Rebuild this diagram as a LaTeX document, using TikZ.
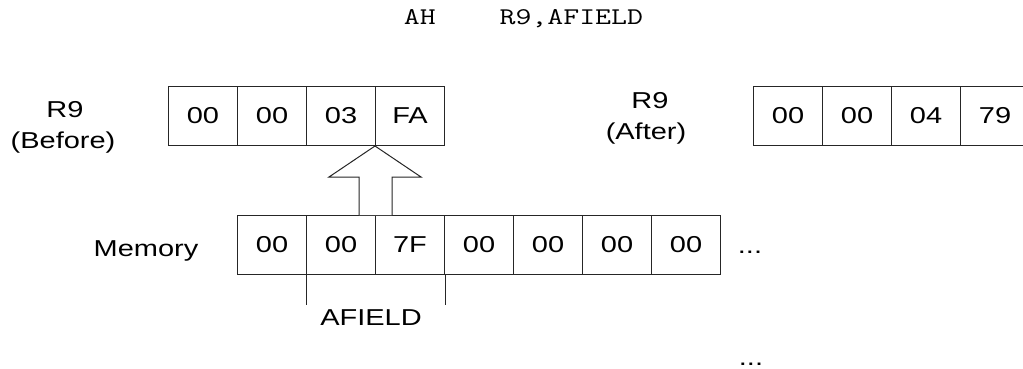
\documentclass[tikz,border=0pt]{standalone}
\usepackage{fontspec}
\setmainfont{Liberation Sans}[FakeStretch=1.26]
\newfontfamily\monof{Latin Modern Mono}[FakeStretch=1.29]
\usetikzlibrary{calc}
\begin{document}
\begin{tikzpicture}[x=0.75pt,y=-0.75pt,
  cell/.style={draw=black!85, line width=0.75pt, minimum width=51.75pt, minimum height=44.25pt,
    inner sep=0pt, anchor=north west, font=\fontsize{17.25pt}{20pt}\selectfont},
  lbl/.style={anchor=base, inner sep=0pt, font=\fontsize{17.25pt}{20pt}\selectfont},
  tick/.style={draw=black!85, line width=0.75pt}]
\useasboundingbox (0,0) rectangle (1023,368);
% title
\node[anchor=base, inner sep=0pt, font=\monof\fontsize{18pt}{20pt}\selectfont] (title) at (523.5,24) {AH\ \ \ \ R9,AFIELD};
% register before
\node[cell] (b1) at (168,86) {00};
\node[cell] (b2) at (237,86) {00};
\node[cell] (b3) at (306,86) {03};
\node[cell] (b4) at (375,86) {FA};
\node[lbl] (rb) at (65,117) {R9};
\node[lbl] (rbb) at (63,148) {(Before)};
% register after
\begin{scope}
\clip (0,0) rectangle (1023,368);
\node[cell] (a1) at (753,86) {00};
\node[cell] (a2) at (822,86) {00};
\node[cell] (a3) at (891,86) {04};
\node[cell] (a4) at (960,86) {79};
\end{scope}
\node[lbl] (ra) at (650,108) {R9};
\node[lbl] (raa) at (646,139) {(After)};
% memory
\node[cell] (m1) at (237,215) {00};
\node[cell] (m2) at (306,215) {00};
\node[cell] (m3) at (375,215) {7F};
\node[cell] (m4) at (444,215) {00};
\node[cell] (m5) at (513,215) {00};
\node[cell] (m6) at (582,215) {00};
\node[cell] (m7) at (651,215) {00};
\node[lbl] (mem) at (146,256) {Memory};
\node[lbl] (dots1) at (750,253) {...};
\node[lbl] (dots2) at (751,365) {...};
% AFIELD
\coordinate (t1) at ($(m2.south west)+(0,30)$);
\coordinate (t2) at ($(m3.south east)+(0,30)$);
\draw[tick] (m2.south west) -- (t1);
\draw[tick] (m3.south east) -- (t2);
\node[lbl] (af) at (371,325) {AFIELD};
% block arrow
\coordinate (tip) at (b4.south west);
\draw[draw=black!85, line width=0.75pt, fill=white]
  ($(m2.north west)+(53,0)$) -- ($(tip)+(-16,31)$) -- ($(tip)+(-46,31)$) -- (tip)
  -- ($(tip)+(46,31)$) -- ($(tip)+(17,31)$) -- ($(m3.north west)+(17,0)$);
\end{tikzpicture}
\end{document}
